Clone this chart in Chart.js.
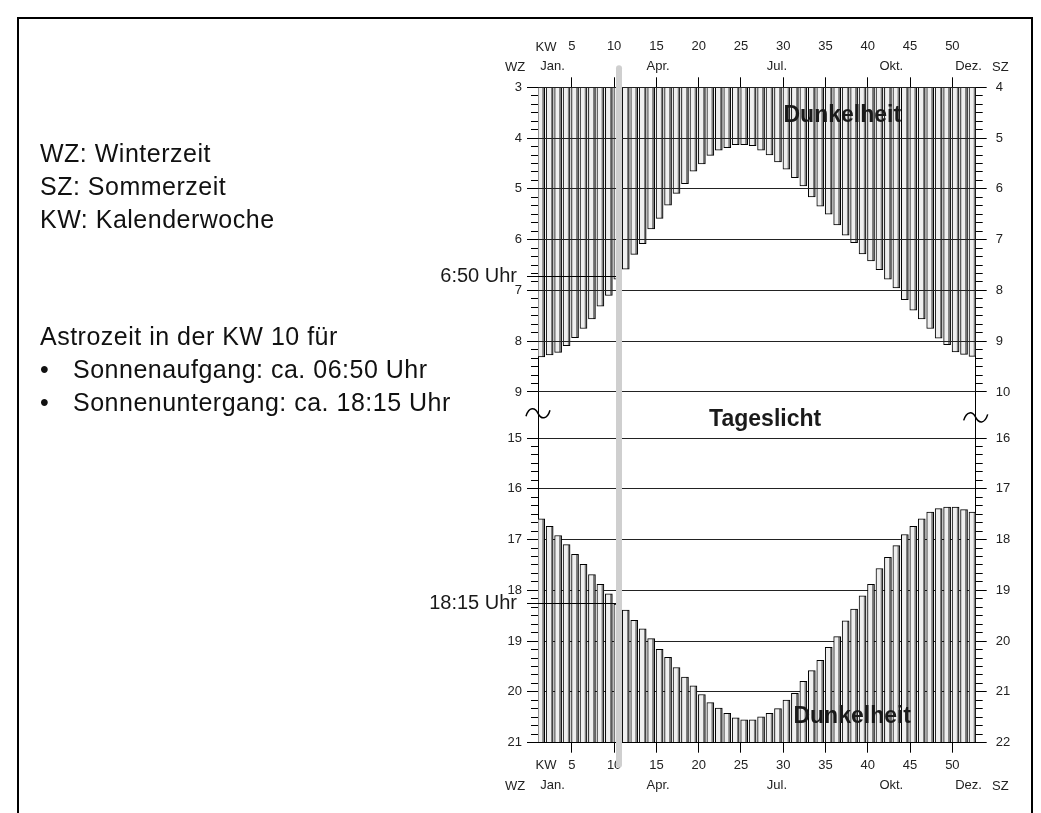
<!DOCTYPE html>
<html lang="de">
<head>
<meta charset="utf-8">
<title>Sonnenaufgang und Sonnenuntergang je Kalenderwoche</title>
<script src="https://cdn.jsdelivr.net/npm/chart.js@4.4.1/dist/chart.umd.min.js"></script>
<style>
  html, body { margin: 0; padding: 0; background: #fff; }
  body { width: 1041px; height: 813px; position: relative; overflow: hidden;
         font-family: "Liberation Sans", Arial, sans-serif; color: #111; }
  #c { position: absolute; left: 0; top: 0; }
  .frame { position: absolute; left: 17px; top: 17px; width: 1012px; height: 840px; border: 2px solid #000; }
  .notes { position: absolute; left: 40px; font-size: 25px; line-height: 33px; letter-spacing: 0.5px; white-space: nowrap; }
  .item { position: relative; padding-left: 33px; }
  .dot { position: absolute; left: 0; }
</style>
</head>
<body>
<canvas id="c" width="1041" height="813"></canvas>
<div class="frame"></div>
<div class="notes" style="top:137px">WZ: Winterzeit<br>SZ: Sommerzeit<br>KW: Kalenderwoche</div>
<div class="notes" style="top:320px">Astrozeit in der KW 10 für
  <div class="item"><span class="dot">•</span>Sonnenaufgang: ca. 06:50 Uhr</div>
  <div class="item"><span class="dot">•</span>Sonnenuntergang: ca. 18:15 Uhr</div>
</div>
<script>
// Kalenderwochen und Zeiten (Winterzeit, Stunden dezimal)
const weeks = [1, 2, 3, 4, 5, 6, 7, 8, 9, 10, 11, 12, 13, 14, 15, 16, 17, 18, 19, 20, 21, 22, 23, 24, 25, 26,
               27, 28, 29, 30, 31, 32, 33, 34, 35, 36, 37, 38, 39, 40, 41, 42, 43, 44, 45, 46, 47, 48, 49, 50, 51, 52];
const sunriseWZ = [8.31, 8.27, 8.22, 8.09, 7.93, 7.75, 7.56, 7.31, 7.10, 6.78, 6.58, 6.29, 6.08, 5.79, 5.58, 5.32, 5.09,
                   4.90, 4.65, 4.51, 4.34, 4.24, 4.19, 4.13, 4.13, 4.15, 4.24, 4.33, 4.47, 4.61, 4.78, 4.94, 5.16, 5.34,
                   5.50, 5.71, 5.91, 6.06, 6.28, 6.42, 6.59, 6.78, 6.95, 7.18, 7.39, 7.56, 7.75, 7.94, 8.07, 8.21, 8.26, 8.30];
const sunsetWZ = [16.59, 16.74, 16.92, 17.10, 17.29, 17.49, 17.69, 17.88, 18.07, 18.27, 18.39, 18.59, 18.76, 18.95, 19.16,
                  19.32, 19.52, 19.71, 19.88, 20.05, 20.21, 20.32, 20.42, 20.51, 20.55, 20.55, 20.49, 20.42, 20.33, 20.16,
                  20.03, 19.79, 19.58, 19.38, 19.12, 18.91, 18.60, 18.37, 18.11, 17.88, 17.57, 17.35, 17.12, 16.90, 16.74,
                  16.59, 16.46, 16.39, 16.36, 16.36, 16.41, 16.46];

// Achsenbeschriftungen
const kwTicks = [5, 10, 15, 20, 25, 30, 35, 40, 45, 50];
const hoursTop = [3, 4, 5, 6, 7, 8, 9];
const hoursBottom = [15, 16, 17, 18, 19, 20, 21];
const monthLabels = ['Jan.', 'Apr.', 'Jul.', 'Okt.', 'Dez.'];
const monthPos = [2.34, 14.82, 28.87, 42.4, 51.54];

// Ablesebeispiel KW 10
const highlightWeek = 10.2;
const riseMarkWZ = 6.72;
const setMarkWZ = 18.26;

// untere Hälfte (15-21 Uhr) wird direkt unter 9 Uhr angesetzt
const SHIFT = 5.094;
const Y_MAX = 21 - SHIFT;
const X_MIN = 0.62, X_MAX = 52.38;
const TICK_OFF = 0.38;   // Wochenstrich sitzt am linken Balkenrand

const FONT = '"Liberation Sans", Arial, sans-serif';
Chart.defaults.font.family = FONT;
Chart.defaults.color = '#222';

function seg(ctx, x1, y1, x2, y2) {
    ctx.beginPath();
    ctx.moveTo(x1, y1);
    ctx.lineTo(x2, y2);
    ctx.stroke();
}
// gleiche Pixelausrichtung wie Chart.js für 1px-Linien
const crisp = v => Math.round(v - 0.5) + 0.5;

function tilde(ctx, cx, cy) {
    ctx.beginPath();
    ctx.moveTo(cx - 12, cy + 3);
    ctx.bezierCurveTo(cx - 9, cy - 7, cx - 3, cy - 6, cx, cy);
    ctx.bezierCurveTo(cx + 3, cy + 6, cx + 9, cy + 7, cx + 12, cy - 3);
    ctx.stroke();
}

// Balken hell mit dunklem Schatten rechts
function barFill(c) {
    const chart = c.chart;
    const xs = chart.scales.x;
    if (!xs || !c.parsed) return '#efefef';
    const cx = xs.getPixelForValue(c.parsed.x);
    if (!Number.isFinite(cx)) return '#efefef';
    const g = chart.ctx.createLinearGradient(cx - 3.5, 0, cx + 3.5, 0);
    g.addColorStop(0, '#efefef');
    g.addColorStop(0.62, '#efefef');
    g.addColorStop(0.70, '#808080');
    g.addColorStop(1, '#808080');
    return g;
}

const decor = {
    id: 'decor',
    afterDatasetsDraw(chart) {
        const { ctx, chartArea: a, scales: { x, y } } = chart;
        ctx.save();
        ctx.lineWidth = 1;
        ctx.strokeStyle = '#222';
        // obere Hälfte: Linien liegen über den Balken
        hoursTop.forEach(h => {
            const py = crisp(y.getPixelForValue(h));
            seg(ctx, a.left, py, a.right, py);
        });

        const xHi = x.getPixelForValue(highlightWeek);
        const yRise = crisp(y.getPixelForValue(riseMarkWZ));
        const ySet = crisp(y.getPixelForValue(setMarkWZ - SHIFT));
        ctx.strokeStyle = '#000';
        seg(ctx, a.left - 11, yRise, xHi, yRise);
        seg(ctx, a.left - 11, ySet, xHi, ySet);

        ctx.strokeStyle = '#cfcfcf';
        ctx.lineWidth = 6;
        ctx.lineCap = 'round';
        seg(ctx, xHi, a.top - 19, xHi, a.bottom + 22);

        ctx.fillStyle = '#1a1a1a';
        ctx.textAlign = 'center';
        ctx.textBaseline = 'middle';
        ctx.font = 'bold 23px ' + FONT;
        ctx.fillText('Dunkelheit', x.getPixelForValue(36.6), y.getPixelForValue(3.565));
        ctx.fillText('Dunkelheit', x.getPixelForValue(37.78), y.getPixelForValue(20.495 - SHIFT));
        ctx.fillText('Tageslicht', x.getPixelForValue(27.48), y.getPixelForValue(9.552));

        ctx.font = '20px ' + FONT;
        ctx.textAlign = 'right';
        ctx.fillText('6:50 Uhr', a.left - 21, yRise);
        ctx.fillText('18:15 Uhr', a.left - 21, ySet);
        ctx.restore();
    },
    afterDraw(chart) {
        const { ctx, chartArea: a, scales: { x, y } } = chart;
        ctx.save();
        // 10-Minuten-Striche
        ctx.strokeStyle = '#000';
        ctx.lineWidth = 1;
        [[hoursTop, 0], [hoursBottom, SHIFT]].forEach(([hrs, s]) => {
            for (let m = hrs[0] * 6; m <= hrs[hrs.length - 1] * 6; m++) {
                if (m % 6 === 0) continue;
                const py = crisp(y.getPixelForValue(m / 6 - s));
                seg(ctx, a.left - 7, py, a.left, py);
                seg(ctx, a.right, py, a.right + 7, py);
            }
        });
        // Achsenunterbrechung
        ctx.lineWidth = 1.5;
        tilde(ctx, a.left, y.getPixelForValue(9.42));
        tilde(ctx, a.right, y.getPixelForValue(9.5));

        // Monate, KW, WZ/SZ
        ctx.fillStyle = '#222';
        ctx.font = '13px ' + FONT;
        ctx.textAlign = 'center';
        ctx.textBaseline = 'middle';
        monthLabels.forEach((m, i) => {
            const px = x.getPixelForValue(monthPos[i]);
            ctx.fillText(m, px, a.top - 21);
            ctx.fillText(m, px, a.bottom + 43);
        });
        ctx.fillText('KW', x.getPixelForValue(1.57), a.top - 40);
        ctx.fillText('KW', x.getPixelForValue(1.57), a.bottom + 23);
        ctx.fillText('WZ', x.getPixelForValue(-2.1), a.top - 20);
        ctx.fillText('WZ', x.getPixelForValue(-2.1), a.bottom + 44);
        ctx.fillText('SZ', x.getPixelForValue(55.3), a.top - 20);
        ctx.fillText('SZ', x.getPixelForValue(55.3), a.bottom + 44);
        ctx.restore();
    }
};

const barStyle = {
    backgroundColor: barFill,
    borderColor: '#000',
    borderWidth: 1,
    borderSkipped: false,
    barThickness: 7,
    grouped: false
};

function kwAxis(position, padding) {
    return {
        type: 'linear',
        position: position,
        offset: false,
        min: X_MIN,
        max: X_MAX,
        afterBuildTicks: s => { s.ticks = kwTicks.map(k => ({ value: k - TICK_OFF })); },
        afterFit: s => { s.height = position === 'top' ? 50 : 40; },
        ticks: { callback: v => Math.round(v + TICK_OFF), padding: padding, autoSkip: false, maxRotation: 0,
                 color: '#222', font: { size: 13 } },
        grid: { offset: false, drawOnChartArea: false, tickLength: 10, tickColor: '#000' },
        border: { color: '#000' }
    };
}

function hourAxis(position, add, padding) {
    return {
        type: 'linear',
        position: position,
        reverse: true,
        min: 3,
        max: Y_MAX,
        afterBuildTicks: s => {
            s.ticks = hoursTop.concat(hoursBottom.map(h => h - SHIFT)).map(v => ({ value: v }));
        },
        afterFit: s => { s.width = 40; },
        ticks: { callback: v => Math.round(v <= 9.5 ? v : v + SHIFT) + add, padding: padding,
                 color: '#222', font: { size: 13 } },
        grid: { drawOnChartArea: position === 'left', color: '#222', tickLength: 11, tickColor: '#000' },
        border: { color: '#000' }
    };
}

new Chart(document.getElementById('c'), {
    type: 'bar',
    data: {
        datasets: [
            Object.assign({ label: 'Sonnenaufgang (WZ)', xAxisID: 'x', yAxisID: 'y',
                data: weeks.map((w, i) => ({ x: w, y: [3, sunriseWZ[i]] })) }, barStyle),
            Object.assign({ label: 'Sonnenuntergang (WZ)', xAxisID: 'x', yAxisID: 'y',
                data: weeks.map((w, i) => ({ x: w, y: [sunsetWZ[i] - SHIFT, Y_MAX] })) }, barStyle)
        ]
    },
    options: {
        responsive: false,
        animation: false,
        devicePixelRatio: 1,
        layout: { padding: { left: 498, right: 25.3, top: 37.3, bottom: 30.3 } },
        plugins: { legend: { display: false }, tooltip: { enabled: false } },
        scales: {
            x: kwAxis('top', 23),
            x2: kwAxis('bottom', 5),
            y: hourAxis('left', 0, 5),
            y2: hourAxis('right', 1, 9)
        }
    },
    plugins: [decor]
});
</script>
</body>
</html>
